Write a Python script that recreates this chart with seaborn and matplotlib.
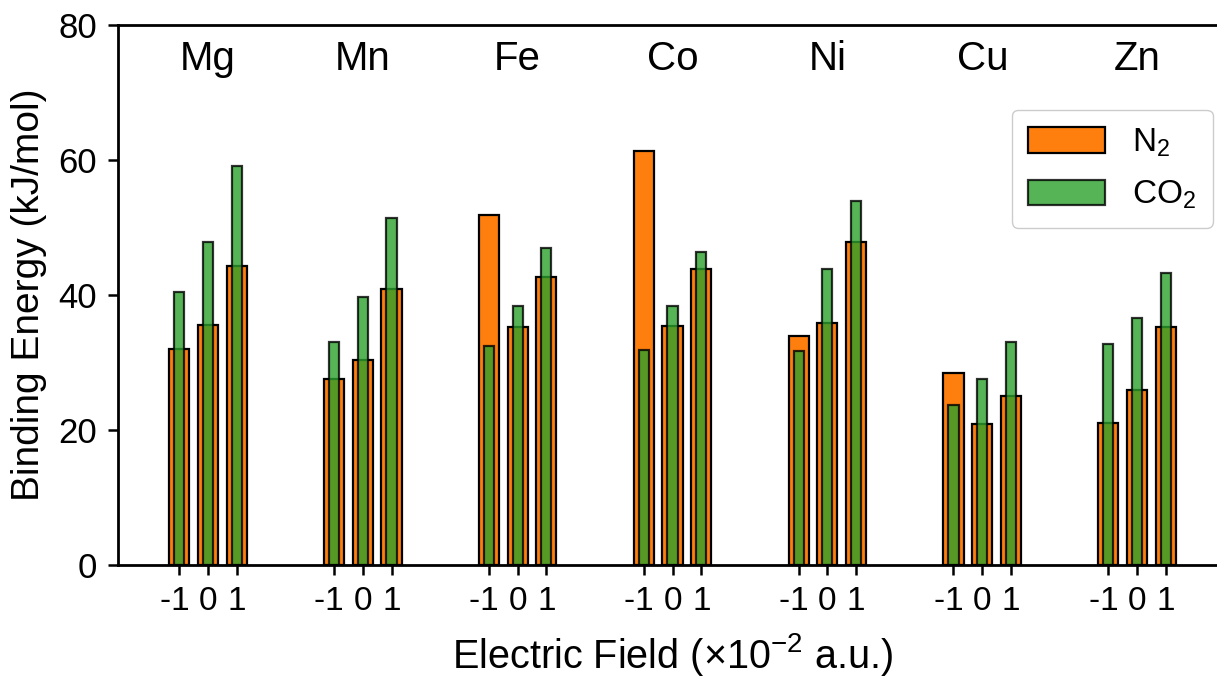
"""
Binding energy of N2 / CO2 vs electric field for metal sites.
"""
import numpy as np
import pandas as pd
import matplotlib
matplotlib.use('Agg')
import matplotlib.pyplot as plt
import seaborn as sns

sns.set_style('ticks')
plt.rcParams['font.family'] = ['Liberation Sans', 'DejaVu Sans']
plt.rcParams['mathtext.fontset'] = 'custom'
plt.rcParams['mathtext.rm'] = 'Liberation Sans'
plt.rcParams['mathtext.it'] = 'Liberation Sans'
plt.rcParams.update({
    'text.color':        'black',
    'axes.labelcolor':   'black',
    'axes.edgecolor':    'black',
    'xtick.color':       'black',
    'ytick.color':       'black',
    'xtick.major.pad':   8,
    'ytick.major.pad':   8,
    'xtick.major.size':  7,
    'ytick.major.size':  7,
    'xtick.major.width': 1.8,
    'ytick.major.width': 1.8,
})

ORANGE = '#ff7f0e'
GREEN  = '#2ca02c'

metals = ['Mg', 'Mn', 'Fe', 'Co', 'Ni', 'Cu', 'Zn']
fields = ['-1 ', '0', '1']
y_ticks = [0, 20, 40, 60, 80]

n2_energy = [
    [32.0, 35.6, 44.3],   # Mg
    [27.5, 30.4, 40.9],   # Mn
    [51.9, 35.3, 42.6],   # Fe
    [61.3, 35.4, 43.8],   # Co
    [33.9, 35.8, 47.8],   # Ni
    [28.4, 20.9, 25.0],   # Cu
    [21.1, 25.9, 35.2],   # Zn
]
co2_energy = [
    [40.5, 47.8, 59.1],
    [33.0, 39.7, 51.4],
    [32.4, 38.3, 47.0],
    [31.8, 38.3, 46.4],
    [31.7, 43.9, 54.0],
    [23.7, 27.5, 33.0],
    [32.7, 36.6, 43.2],
]

GROUP_GAP = 5.38

rows = []
for g, metal in enumerate(metals):
    for f, field in enumerate(fields):
        rows.append({'metal': metal, 'field': field,
                     'pos': g * GROUP_GAP + f,
                     'N2': n2_energy[g][f], 'CO2': co2_energy[g][f]})
df = pd.DataFrame(rows)

fig = plt.figure(figsize=(12.17, 6.8), dpi=100)
ax = fig.add_axes([118 / 1217, 115 / 680, 1109 / 1217, 540 / 680])

sns.barplot(data=df, x='pos', y='N2', native_scale=True, width=0.7,
            color=ORANGE, saturation=1, edgecolor='black', linewidth=1.6,
            errorbar=None, label='N$_2$', ax=ax)
sns.barplot(data=df, x='pos', y='CO2', native_scale=True, width=0.35,
            color=GREEN, saturation=1, alpha=0.8, edgecolor='black',
            linewidth=1.6, errorbar=None, label='CO$_2$', ax=ax)

ax.set_xlim(-2.12, df['pos'].max() + 2.12)
ax.set_ylim(0, 80)
ax.set_xticks(df['pos'])
ax.set_xticklabels(df['field'], fontsize=24)
ax.set_yticks(y_ticks)
ax.set_yticklabels([str(t) for t in y_ticks], fontsize=25)

for g, metal in enumerate(metals):
    ax.text(g * GROUP_GAP + 1, 75, metal, ha='center', va='center', fontsize=29)

ax.set_xlabel('Electric Field (×10$^{-2}$ a.u.)', fontsize=28.5, labelpad=10)
ax.set_ylabel('Binding Energy (kJ/mol)', fontsize=28, labelpad=8)

for side in ['left', 'bottom', 'top']:
    ax.spines[side].set_linewidth(2)
ax.spines['right'].set_visible(False)

leg = ax.legend(loc='upper right', bbox_to_anchor=(0.987, 0.843),
                borderaxespad=0, fontsize=24, handlelength=2.3,
                handleheight=0.8, labelspacing=0.6, frameon=True,
                framealpha=1, borderpad=0.5)
leg.get_frame().set_edgecolor('#cccccc')

fig.savefig('out.png', dpi=100)
